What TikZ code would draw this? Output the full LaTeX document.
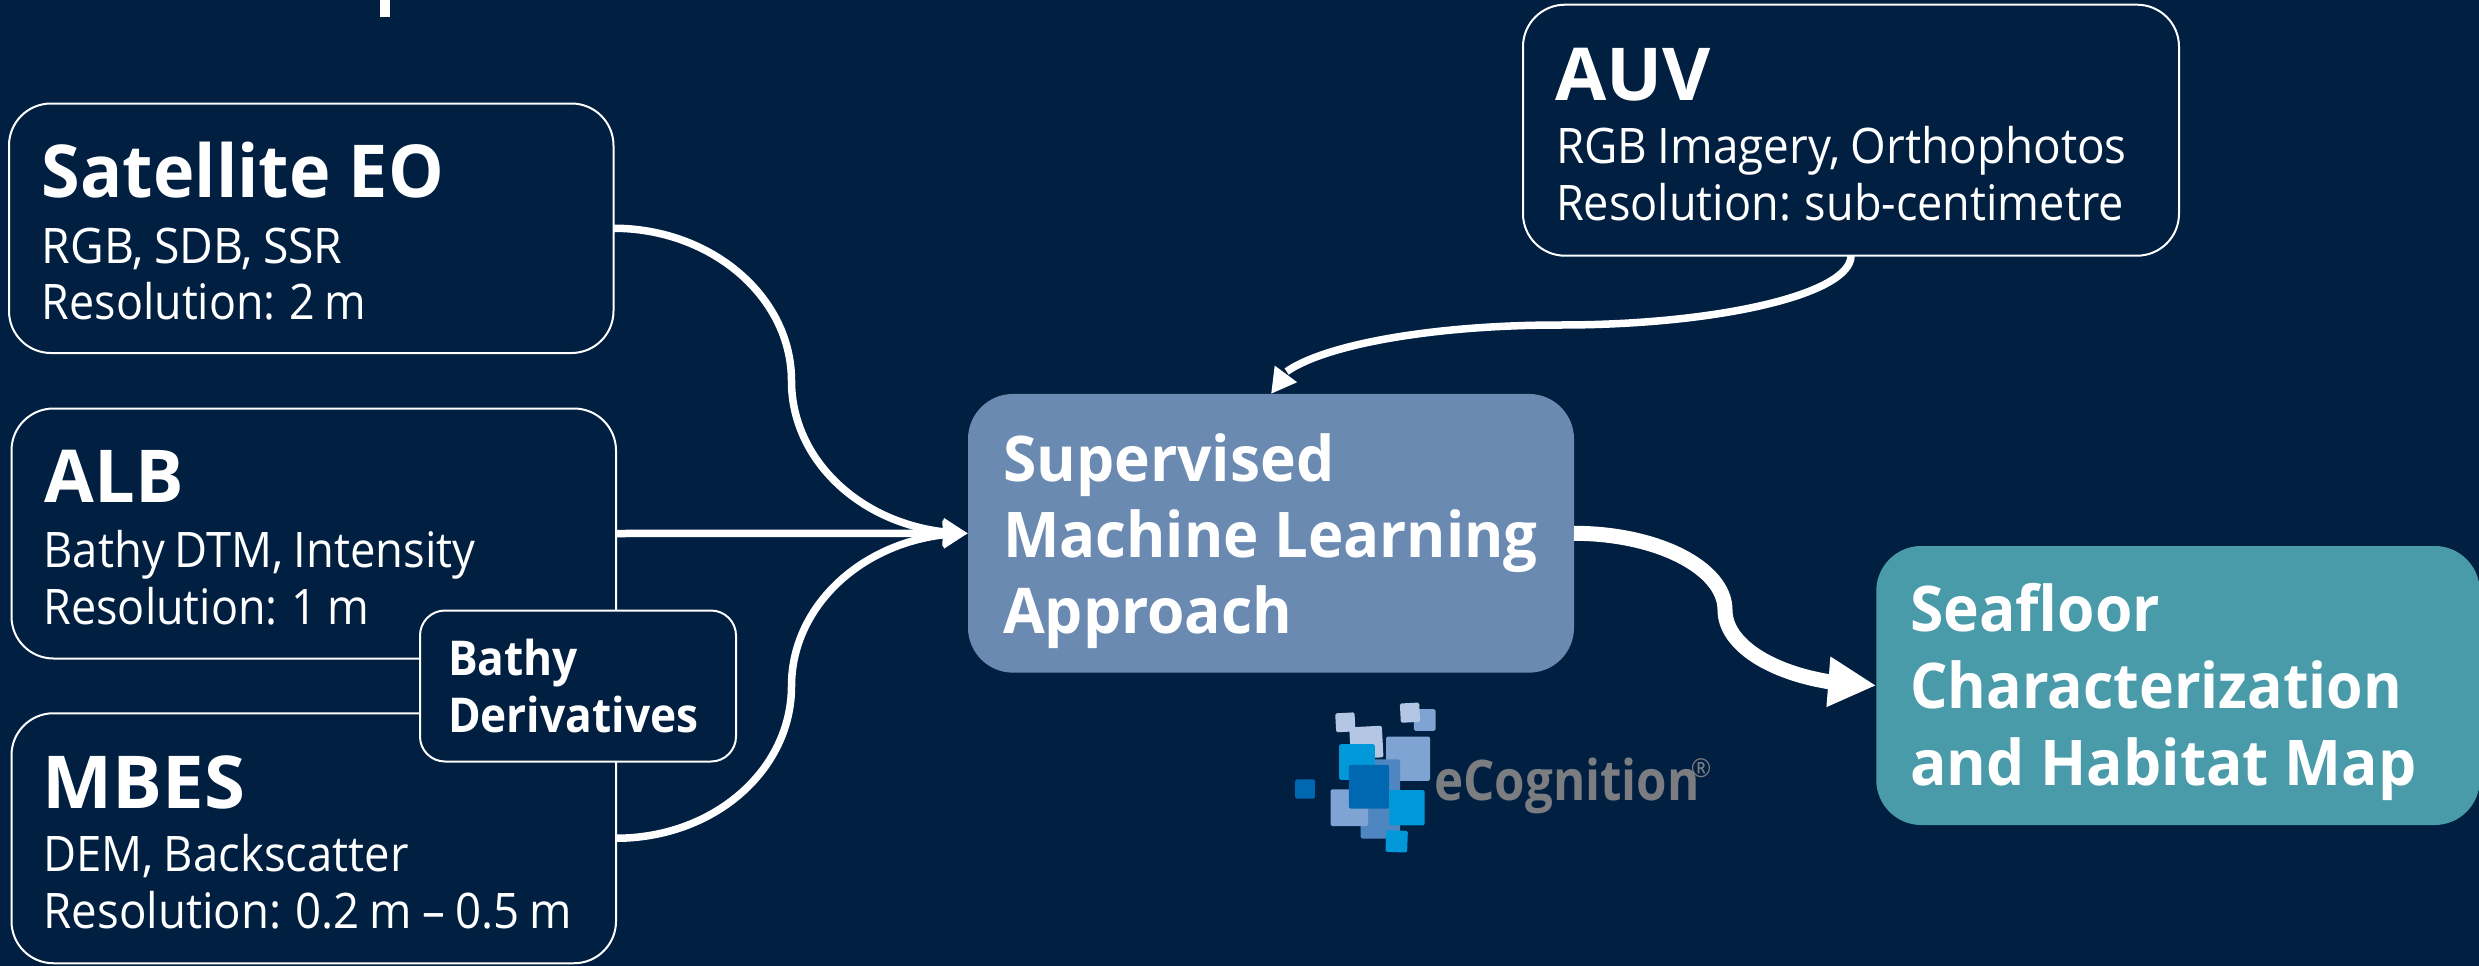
\documentclass[tikz,border=0pt]{standalone}
\usepackage{fontspec}
\usepackage{graphicx}
\usetikzlibrary{arrows.meta,bending}
\newfontfamily\uif[FakeStretch=0.96]{Open Sans}
\newfontfamily\uir[FakeStretch=0.945]{Open Sans}
\newfontfamily\logof[FakeStretch=0.88]{Open Sans}
\definecolor{bgc}{HTML}{001F41}
\definecolor{mlc}{HTML}{6A8AB2}
\definecolor{seac}{HTML}{4A9BAA}
\definecolor{lgA}{HTML}{B3C6E4}
\definecolor{lgB}{HTML}{7FA3D2}
\definecolor{lgC}{HTML}{4F86C2}
\definecolor{lgD}{HTML}{0098D9}
\definecolor{lgE}{HTML}{0068B0}
\definecolor{lgT}{HTML}{7B7D80}
\newcommand\tl[3]{\kern#1pt\hbox to\hsize{\kern#2pt\smash{#3}\hss}}
\newcommand\bxt[3]{\vbox to #2pt{\hsize=#1pt\offinterlineskip #3\vss}}
\newcommand\tta[2][1]{{\bfseries\fontsize{73}{73}\selectfont\scalebox{#1}[1]{#2}}}
\newcommand\ttb[2][1]{{\uir\fontsize{49}{49}\selectfont\spaceskip=0.21em \scalebox{#1}[1]{#2}}}
\newcommand\ttc[1]{{\bfseries\fontsize{48}{48}\selectfont\scalebox{0.96}[1]{#1}}}
\newcommand\ttd[2][1]{{\bfseries\fontsize{63}{63}\selectfont\scalebox{#1}[1]{#2}}}
\newcommand\lsq[6]{\fill[#6,rounded corners=1.5pt,rotate around={#5:(#1,#2)}] ({#1-#3/2},{#2-#4/2}) rectangle ({#1+#3/2},{#2+#4/2});}
\tikzset{
  srcbox/.style={draw=white,line width=2pt,fill=bgc,rounded corners=42pt,inner sep=0pt,outer sep=0pt,text=white,font=\uif},
  smallbox/.style={srcbox,rounded corners=25pt},
  procbox/.style={fill=mlc,rounded corners=45pt,inner sep=0pt,outer sep=0pt,text=white,font=\uif},
  outbox/.style={procbox,fill=seac},
  conn/.style={white,line width=7.5pt,-{Triangle[length=25pt,width=26pt,flex]}},
  connb/.style={white,line width=15pt,-{Triangle[length=48pt,width=47pt,flex]}}
}
\begin{document}
\begin{tikzpicture}[x=1pt,y=-1pt]
\useasboundingbox (0,0) rectangle (2479,966);
\fill[bgc] (0,0) rectangle (2479,966);
\fill[white] (379.5,0) rectangle (390,17);
\node[srcbox] (sat) at (311.25,228.25) {\bxt{604.5}{249.5}{\tl{94}{33}{\tta{Satellite EO}}\tl{65.5}{33}{\ttb{RGB, SDB, SSR}}\tl{56}{33}{\ttb[0.967]{Resolution: 2 m}}}};
\node[srcbox] (alb) at (313.75,533.5) {\bxt{604.5}{250}{\tl{94}{33}{\tta[1.03]{ALB}}\tl{64.5}{32}{\ttb[0.98]{Bathy DTM, Intensity}}\tl{57}{32}{\ttb[0.97]{Resolution: 1 m}}}};
\node[srcbox] (mbes) at (313.75,838.25) {\bxt{604.5}{250}{\tl{95}{31}{\tta[1.06]{MBES}}\tl{63.5}{32}{\ttb[0.98]{DEM, Backscatter}}\tl{57}{32}{\ttb[0.985]{Resolution: 0.2 m – 0.5 m}}}};
\node[smallbox] (der) at (578,686) {\bxt{316}{151}{\tl{65.4}{28}{\ttc{Bathy}}\tl{57}{28}{\ttc{Derivatives}}}};
\node[srcbox] (auv) at (1851,130.2) {\bxt{656}{251}{\tl{96}{32}{\tta[1.06]{AUV}}\tl{62.5}{33}{\ttb[0.99]{RGB Imagery, Orthophotos}}\tl{57.7}{33}{\ttb[0.973]{Resolution: sub-centimetre}}}};
\node[procbox] (ml) at (1271,533.3) {\bxt{606}{278.7}{\tl{88}{35}{\ttd{Supervised}}\tl{76}{35}{\ttd[0.99]{Machine Learning}}\tl{76}{35}{\ttd{Approach}}}};
\node[outbox] (sea) at (2178,685.5) {\bxt{603.5}{279}{\tl{85.7}{34}{\ttd{Seafloor}}\tl{76.3}{34}{\ttd[0.975]{Characterization}}\tl{77}{34}{\ttd{and Habitat Map}}}};
\coordinate (msat) at (791.5,381);
\coordinate (mmb) at (791.5,686);
\coordinate (mauv) at (1560,325);
\coordinate (msea) at (1725,610);
\draw[conn] (sat.east) to[out=0,in=90,out distance=98pt,in distance=84pt] (msat) to[out=-90,in=180,out distance=84pt,in distance=98pt] (ml.west);
\draw[conn] (alb.east) -- (ml.west);
\draw[conn] (mbes.east) to[out=0,in=-90,out distance=98pt,in distance=84pt] (mmb) to[out=90,in=180,out distance=84pt,in distance=98pt] (ml.west);
\draw[conn] (auv.south) to[out=-90,in=0,out distance=38pt,in distance=160pt] (mauv) to[out=180,in=90,out distance=160pt,in distance=38pt] (ml.north);
\draw[connb] (ml.east) to[out=0,in=90,out distance=83pt,in distance=42pt] (msea) to[out=-90,in=180,out distance=42pt,in distance=83pt] (sea.west);
\begin{scope}[shift={(1250,680)},x=0.33333pt,y=-0.33333pt]
\lsq{349}{187}{98}{95}{3}{lgA}
\lsq{286}{127}{58}{57}{3}{lgA}
\lsq{474}{236}{132}{133}{0}{lgB}
\lsq{391}{357}{118}{238}{0}{lgC}
\lsq{298}{383}{113}{110}{0}{lgB}
\lsq{321}{246}{107}{107}{0}{lgD}
\lsq{357}{320}{121}{131}{0}{lgE}
\lsq{471}{383}{106}{106}{0}{lgD}
\lsq{440}{484}{65}{65}{-2}{lgD}
\lsq{165}{327}{59}{58}{0}{lgE}
\lsq{524}{120}{65}{65}{0}{lgB}
\lsq{480}{98}{58}{58}{3}{lgA}
\node[anchor=base west,inner sep=0pt,text=lgT,font=\logof\bfseries\fontsize{56}{56}\selectfont] (logo) at (552,362) {eCognition};
\node[anchor=center,inner sep=0pt,text=lgT,font=\uir\fontsize{26}{26}\selectfont] (reg) at (1353,265) {®};
\end{scope}
\end{tikzpicture}
\end{document}
